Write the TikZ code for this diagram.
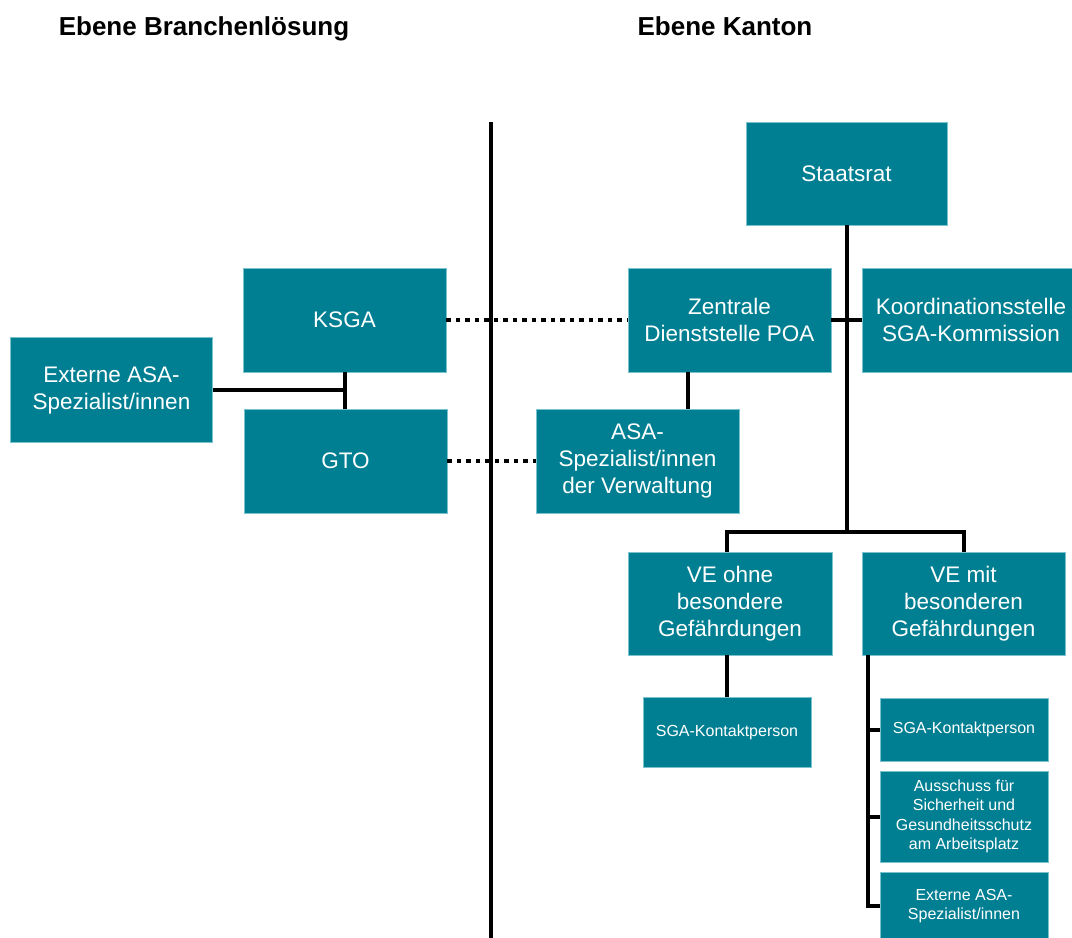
\documentclass[tikz,border=0pt]{standalone}
\usepackage{fontspec}
\setmainfont{Liberation Sans}
\definecolor{petrol}{RGB}{0,127,146}
\definecolor{petrolrand}{RGB}{120,195,205}
\tikzset{
  unit/.style={fill=petrol, draw=petrolrand, line width=0.7pt, text=white,
    align=center, inner sep=0pt, font=\fontsize{22.5}{27}\selectfont},
  smallunit/.style={unit, font=\fontsize{16}{19.5}\selectfont},
  link/.style={line width=4pt},
  dots/.style={line width=4.5pt, dash pattern=on 4.5pt off 5pt},
  head/.style={anchor=base, font=\fontsize{26}{30}\selectfont\bfseries}
}
\begin{document}
\begin{tikzpicture}[x=1pt, y=-1pt]
  \useasboundingbox (0,0) rectangle (1072,938);
  % headings
  \node[head] (kbranche) at (204,35) {Ebene Branchenlösung};
  \node[head] (kkanton) at (725,35) {Ebene Kanton};
  % Ebene Branchenlösung
  \node[unit, minimum width=203pt, minimum height=104pt] (ksga) at (344.5,320) {KSGA};
  \node[unit, minimum width=203pt, minimum height=104pt] (gto) at (345.5,461) {GTO};
  \node[unit, minimum width=202pt, minimum height=105pt] (extern) at (111.5,390) {Externe ASA-\\Spezialist/innen};
  % Ebene Kanton
  \node[unit, minimum width=201pt, minimum height=103pt] (staatsrat) at (846.5,173.5) {Staatsrat};
  \node[unit, minimum width=203pt, minimum height=104pt] (zentrale) at (729.5,320) {Zentrale\\Dienststelle POA};
  \node[unit, minimum width=218pt, minimum height=104pt] (koord) at (971,320) {Koordinationsstelle\\SGA-Kommission};
  \node[unit, minimum width=203pt, minimum height=104pt] (asaverw) at (637.5,461) {ASA-\\Spezialist/innen\\der Verwaltung};
  \node[unit, minimum width=204pt, minimum height=103pt] (veohne) at (730,603.5) {VE ohne\\besondere\\Gefährdungen};
  \node[unit, minimum width=203pt, minimum height=103pt] (vemit) at (963.5,603.5) {VE mit\\besonderen\\Gefährdungen};
  \node[smallunit, minimum width=168pt, minimum height=70pt] (kontakta) at (727,732) {SGA-Kontaktperson};
  \node[smallunit, minimum width=168pt, minimum height=63pt] (kontaktb) at (964,729.5) {SGA-Kontaktperson};
  \node[smallunit, minimum width=168pt, minimum height=91pt] (ausschuss) at (964,816.5) {Ausschuss für\\Sicherheit und\\Gesundheitsschutz\\am Arbeitsplatz};
  \node[smallunit, minimum width=168pt, minimum height=68pt] (externb) at (964,906) {Externe ASA-\\Spezialist/innen};
  % connectors
  \coordinate (gabel) at (846.5,532);
  \coordinate (stamm) at ([xshift=6pt]vemit.south west);
  \draw[link] (ksga.south) -- (ksga.south |- gto.north);
  \draw[link] (extern.east) -- (extern.east -| ksga.south);
  \draw[link] (staatsrat.south) -- (gabel);
  \draw[link] (veohne.north -| kontakta.north) |- (gabel) -| (vemit.north);
  \draw[link] (zentrale.east) -- (koord.west);
  \draw[link] ([xshift=-41.5pt]zentrale.south) -- ([xshift=-41.5pt]zentrale.south |- asaverw.north);
  \draw[link] (veohne.south -| kontakta.north) -- (kontakta.north);
  \foreach \ziel in {kontaktb, ausschuss, externb}
    {\draw[link] (stamm) |- (\ziel.west);}
  \draw[dots] (ksga.east) -- (zentrale.west);
  \draw[dots] (gto.east) -- (asaverw.west);
  % divider
  \draw[line width=4.5pt] (491,122) -- (491,938);
\end{tikzpicture}
\end{document}
